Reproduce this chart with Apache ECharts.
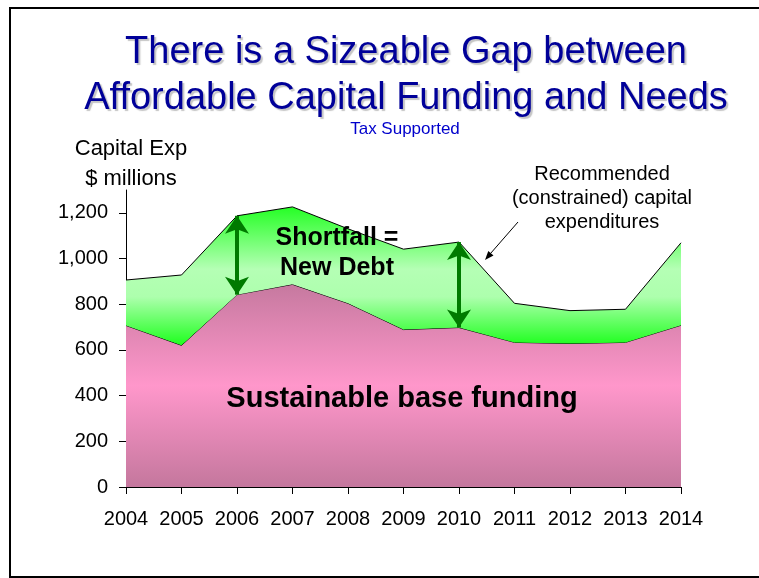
<!DOCTYPE html>
<html>
<head>
<meta charset="utf-8">
<script src="https://cdn.jsdelivr.net/npm/echarts@6/dist/echarts.min.js"></script>
<style>
html,body{margin:0;padding:0;background:#fff;}
#chart{width:759px;height:578px;}
</style>
</head>
<body>
<div id="chart"></div>
<script>
// ---- data ----
var years = ['2004','2005','2006','2007','2008','2009','2010','2011','2012','2013','2014'];
var recommended = [906, 928, 1187, 1226, 1130, 1041, 1072, 804, 772, 778, 1069]; // total capital expenditures
var baseFunding = [707, 620, 842, 887, 804, 689, 698, 633, 628, 633, 708];      // sustainable base funding
var yTicks = [0, 200, 400, 600, 800, 1000, 1200];
var arrowYears = ['2006', '2010'];

var shortfall = recommended.map(function (v, i) { return v - baseFunding[i]; });

var FONT = 'Liberation Sans, Arial, sans-serif';

var arrowData = arrowYears.map(function (y) {
  var i = years.indexOf(y);
  return [{ coord: [i, recommended[i]] }, { coord: [i, baseFunding[i]] }];
});

var chart = echarts.init(document.getElementById('chart'), null, { renderer: 'canvas' });

var option = {
  animation: false,
  backgroundColor: '#ffffff',
  grid: { left: 126, right: 78, top: 190, bottom: 91, containLabel: false },
  xAxis: {
    type: 'category',
    data: years,
    boundaryGap: false,
    axisLine: { lineStyle: { color: '#000', width: 1 } },
    axisTick: { show: true, length: 7, alignWithLabel: true, lineStyle: { color: '#000' } },
    axisLabel: { color: '#000', fontSize: 20, fontFamily: FONT, margin: 22, interval: 0 },
    splitLine: { show: false }
  },
  yAxis: {
    type: 'value',
    min: 0,
    max: 1300,
    interval: 100,
    axisLine: { show: true, lineStyle: { color: '#000', width: 1 } },
    axisTick: { show: true, length: 7, lineStyle: { color: '#000' }, customValues: yTicks },
    axisLabel: {
      color: '#000', fontSize: 20, fontFamily: FONT, margin: 18,
      customValues: yTicks,
      formatter: function (v) { return v.toLocaleString('en-US'); }
    },
    splitLine: { show: false }
  },
  series: [
    {
      name: 'Sustainable base funding',
      type: 'line',
      stack: 'cap',
      data: baseFunding,
      symbol: 'none',
      lineStyle: { color: '#000', width: 1 },
      areaStyle: {
        opacity: 1,
        color: new echarts.graphic.LinearGradient(0, 0, 0, 1, [
          { offset: 0, color: '#c6799f' },
          { offset: 0.5, color: '#ff97cb' },
          { offset: 1, color: '#c4779d' }
        ])
      },
      z: 2
    },
    {
      name: 'Shortfall',
      type: 'line',
      stack: 'cap',
      data: shortfall,
      symbol: 'none',
      lineStyle: { color: '#000', width: 1 },
      areaStyle: {
        opacity: 1,
        color: new echarts.graphic.LinearGradient(0, 0, 0, 1, [
          { offset: 0, color: '#25ff25' },
          { offset: 0.45, color: '#b5ffb5' },
          { offset: 0.65, color: '#adffad' },
          { offset: 1, color: '#1eff1e' }
        ])
      },
      z: 3
    },
    {
      name: 'arrows',
      type: 'line',
      data: [],
      symbol: 'none',
      z: 5,
      markLine: {
        silent: true,
        symbol: ['arrow', 'arrow'],
        symbolSize: [18, 18],
        label: { show: false },
        lineStyle: { color: '#007a00', width: 4, type: 'solid' },
        emphasis: { disabled: true },
        data: arrowData
      }
    }
  ],
  graphic: [
    {
      type: 'rect', silent: true, z: 100,
      shape: { x: 10, y: 8, width: 760, height: 569 },
      style: { fill: 'none', stroke: '#000', lineWidth: 2 }
    },
    {
      type: 'text', silent: true, z: 100, x: 406, y: 76,
      style: {
        text: 'There is a Sizeable Gap between\nAffordable Capital Funding and Needs',
        fill: '#000099', fontSize: 38, fontFamily: FONT, align: 'center', verticalAlign: 'middle',
        lineHeight: 46, textShadowColor: 'rgba(140,140,140,0.5)', textShadowOffsetX: 2, textShadowOffsetY: 2, textShadowBlur: 1
      }
    },
    {
      type: 'text', silent: true, z: 100, x: 405, y: 129,
      style: { text: 'Tax Supported', fill: '#0000cc', fontSize: 17, fontFamily: FONT, align: 'center', verticalAlign: 'middle' }
    },
    {
      type: 'text', silent: true, z: 100, x: 131, y: 164,
      style: { text: 'Capital Exp\n$ millions', fill: '#000', fontSize: 22, fontFamily: FONT, align: 'center', verticalAlign: 'middle', lineHeight: 30 }
    },
    {
      type: 'text', silent: true, z: 100, x: 602, y: 198,
      style: { text: 'Recommended\n(constrained) capital\nexpenditures', fill: '#000', fontSize: 20, fontFamily: FONT, align: 'center', verticalAlign: 'middle', lineHeight: 24 }
    },
    {
      type: 'line', silent: true, z: 100,
      shape: { x1: 518, y1: 222, x2: 490.5, y2: 253.5 },
      style: { stroke: '#000', lineWidth: 1 }
    },
    {
      type: 'polygon', silent: true, z: 100,
      shape: { points: [[485, 260], [493.5, 255.5], [488.3, 250.9]] },
      style: { fill: '#000' }
    },
    {
      type: 'text', silent: true, z: 100, x: 337, y: 253,
      style: { text: 'Shortfall =\nNew Debt', fill: '#000', fontSize: 25, fontWeight: 'bold', fontFamily: FONT, align: 'center', verticalAlign: 'middle', lineHeight: 30 }
    },
    {
      type: 'text', silent: true, z: 100, x: 402, y: 399,
      style: { text: 'Sustainable base funding', fill: '#000', fontSize: 29, fontWeight: 'bold', fontFamily: FONT, align: 'center', verticalAlign: 'middle' }
    }
  ]
};

chart.setOption(option);
</script>
</body>
</html>
